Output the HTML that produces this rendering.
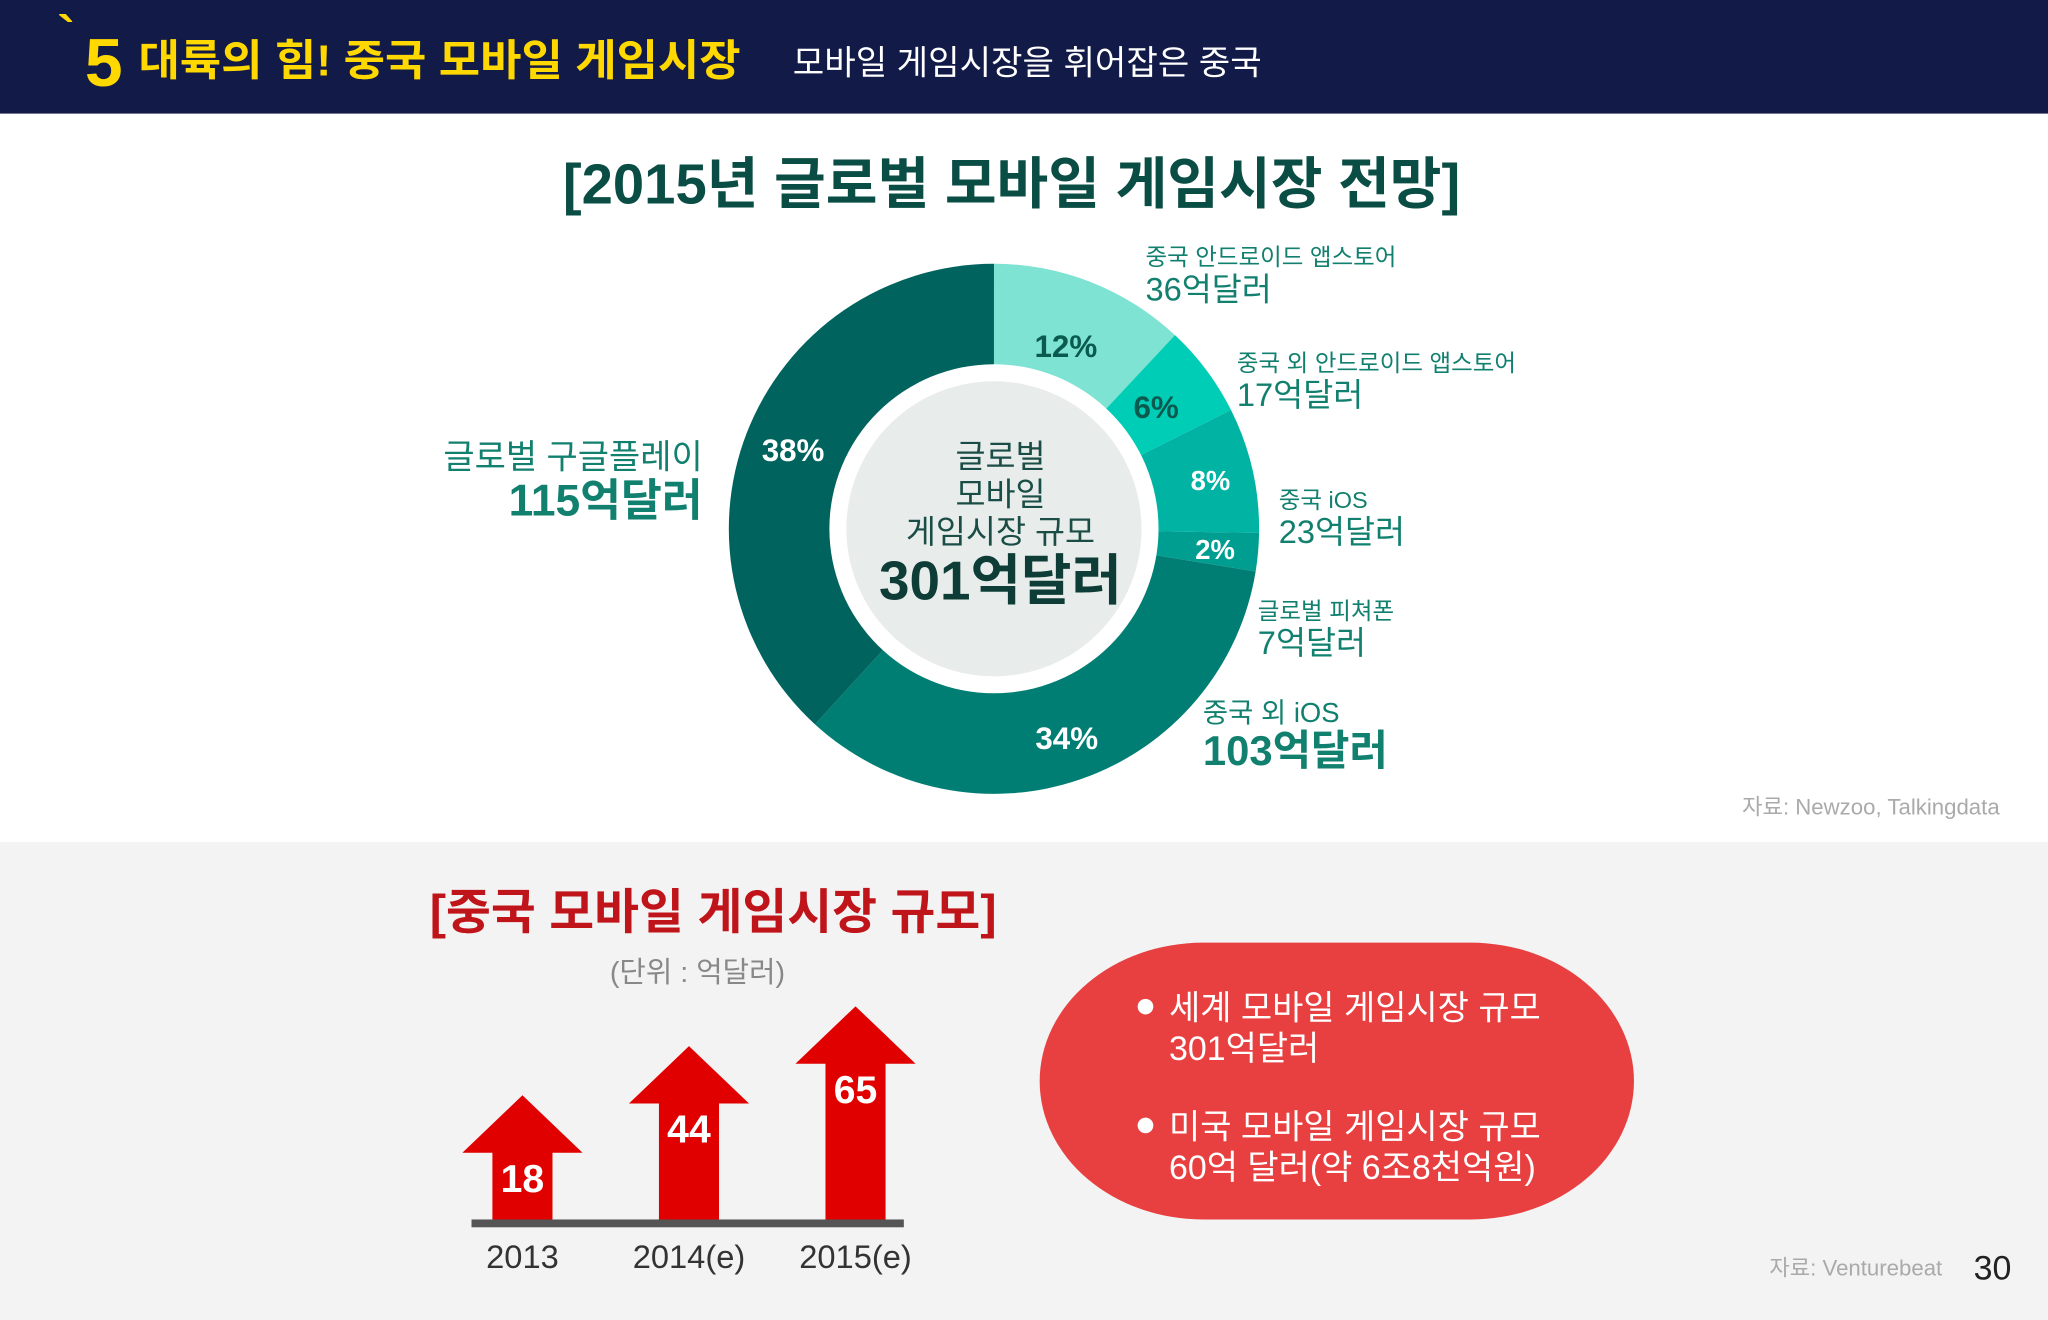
<!DOCTYPE html>
<html><head><meta charset="utf-8"><style>
html,body{margin:0;padding:0;width:2048px;height:1320px;overflow:hidden;background:#fff}
svg{display:block}
text{font-family:"Liberation Sans","Noto Sans CJK KR",sans-serif}
</style></head><body>
<svg id="s" width="2048" height="1320" viewBox="0 0 1568 1011" preserveAspectRatio="none" xmlns="http://www.w3.org/2000/svg">
<rect x="0" y="0" width="1568" height="87" fill="#121a47"/>
<text x="44" y="40" fill="#ffd800" font-size="40" font-weight="bold">`</text>
<text x="65" y="66" fill="#ffd800" font-size="52" font-weight="bold">5</text>
<text x="106" y="58" fill="#ffd800" font-size="33" font-weight="bold" textLength="461" lengthAdjust="spacingAndGlyphs">대륙의 힘! 중국 모바일 게임시장</text>
<text x="607" y="57" fill="#fff" font-size="26" textLength="359" lengthAdjust="spacingAndGlyphs">모바일 게임시장을 휘어잡은 중국</text>
<rect x="0" y="645" width="1568" height="366" fill="#f4f3f4"/>
<text x="431" y="156" fill="#0a4d44" font-size="43" font-weight="bold" textLength="687" lengthAdjust="spacingAndGlyphs">[2015년  글로벌 모바일 게임시장 전망]</text>
<g id="donut"></g>
<text x="1531" y="624" fill="#aaa" font-size="17" text-anchor="end">자료: Newzoo, Talkingdata</text>
<text x="329" y="711" fill="#c0141b" font-size="37" font-weight="bold" textLength="434" lengthAdjust="spacingAndGlyphs">[중국 모바일 게임시장 규모]</text>
<text x="534" y="752" fill="#888" font-size="22" text-anchor="middle">(단위 : 억달러)</text>
<g id="arrows"></g>
<rect x="796" y="722" width="455" height="212" rx="125" ry="106" fill="#e84040"/>
<circle cx="877" cy="771" r="6" fill="#fff"/>
<text x="895" y="781" fill="#fff" font-size="26">세계 모바일 게임시장 규모</text>
<text x="895" y="812" fill="#fff" font-size="26">301억달러</text>
<circle cx="877" cy="862" r="6" fill="#fff"/>
<text x="895" y="872" fill="#fff" font-size="26">미국 모바일 게임시장 규모</text>
<text x="895" y="903" fill="#fff" font-size="26">60억 달러(약 6조8천억원)</text>
<text x="1487" y="977" fill="#aaa" font-size="17" text-anchor="end">자료: Venturebeat</text>
<text x="1540" y="980" fill="#222" font-size="26" text-anchor="end">30</text>
</svg>
<script>
const sliceNames=["중국 안드로이드 앱스토어","중국 외 안드로이드 앱스토어","중국 iOS","글로벌 피쳐폰","중국 외 iOS","글로벌 구글플레이"];
const sliceValues=[36,17,23,7,103,115];
const slicePct=["12%","6%","8%","2%","34%","38%"];
const years=["2013","2014(e)","2015(e)"];
const marketValues=[18,44,65];

const NS="http://www.w3.org/2000/svg";
function mk(tag,attrs,parent,txt){const e=document.createElementNS(NS,tag);for(const k in attrs)e.setAttribute(k,attrs[k]);if(txt!==undefined)e.textContent=txt;parent.appendChild(e);return e;}
const colors=["#7ee3d3","#00cdb5","#00b3a2","#009e90","#007e73","#00635e"];
const pctColors=["#0a5a50","#0a5a50","#fff","#fff","#fff","#fff"];
const cx=761,cy=405,R=203;
const donut=document.getElementById('donut');
const total=sliceValues.reduce((a,b)=>a+b,0);
function pt(a,rad){return [cx+rad*Math.sin(a),cy-rad*Math.cos(a)];}
const labR=[150,155,170,170,170,165];
let acc=0;
sliceValues.forEach((v,i)=>{
  const a0=acc/total*2*Math.PI;acc+=v;const a1=acc/total*2*Math.PI;
  const [x0,y0]=pt(a0,R),[x1,y1]=pt(a1,R);
  const large=(a1-a0)>Math.PI?1:0;
  const p=mk('path',{d:`M${cx},${cy} L${x0},${y0} A${R},${R} 0 ${large} 1 ${x1},${y1} Z`,fill:colors[i]},donut);
  
  
  const am=(a0+a1)/2;const [tx,ty]=pt(am,labR[i]);
  const t=mk('text',{x:tx,y:ty+8,fill:pctColors[i],'font-size':i===2||i===3?21:24,'font-weight':'bold','text-anchor':'middle'},donut,slicePct[i]);
  
  
});
const ring=mk('circle',{cx:cx,cy:cy,r:126,fill:'#fff'},donut);


const inner=mk('circle',{cx:cx,cy:cy,r:113,fill:'#e8eceb'},donut);


[["글로벌",358,25,'normal'],["모바일",387,25,'normal'],["게임시장 규모",416,25,'normal'],[total+"억달러",459,42,'bold']].forEach((c,i)=>{
  const t=mk('text',{x:cx+5,y:c[1],fill:i<3?'#1a4d45':'#0d3d36','font-size':c[2],'font-weight':c[3],'text-anchor':'middle'},donut,c[0]);
  
  
});
const lab=[[877,203,222,18,25,'start'],[947,284,303,18,25,'start'],[979,389,408,18,25,'start'],[963,474,493,18,25,'start'],[921,553,578,21,32,'start'],[538,359,387,26,34,'end']];
sliceNames.forEach((n,i)=>{
  const L=lab[i];
  const t1=mk('text',{x:L[0],y:L[1],fill:'#12806f','font-size':L[3],'text-anchor':L[5]},donut,n);
  
  
  const t2=mk('text',{x:L[0],y:L[2]+8,fill:'#12806f','font-size':L[4],'font-weight':i>=4?'bold':'normal','text-anchor':L[5]},donut,sliceValues[i]+"억달러");
  
  
});
const arrows=document.getElementById('arrows');
const base=935;
function hy(v){return 70+1.45*v;}
const xs0=400,dx=127.5;
years.forEach((y,i)=>{
  const x=xs0+i*dx,h=hy(marketValues[i]),top=base-h,hb=top+44;
  const a=mk('path',{d:`M${x},${top} L${x+46},${hb} L${x+23},${hb} L${x+23},${base} L${x-23},${base} L${x-23},${hb} L${x-46},${hb} Z`,fill:'#e00000'},arrows);
  
  
  const t=mk('text',{x:x,y:hb+30,fill:'#fff','font-size':30,'font-weight':'bold','text-anchor':'middle'},arrows,marketValues[i]);
  
  
  const l=mk('text',{x:x,y:971,fill:'#333','font-size':25,'text-anchor':'middle'},arrows,y);
  
  
});
const bl=mk('rect',{x:361,y:934,width:331,height:6,fill:'#555'},arrows);


</script>
</body></html>
